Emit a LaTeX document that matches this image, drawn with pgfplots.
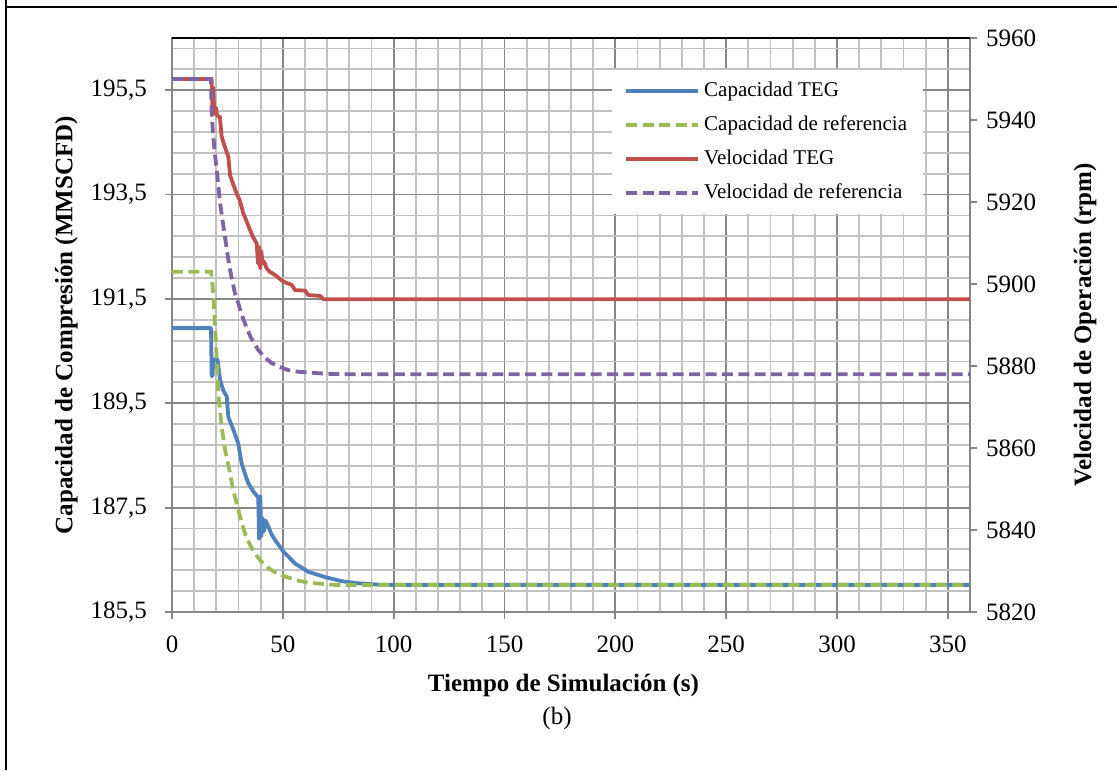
\documentclass[border=0pt]{standalone}
\usepackage{fontspec}
\setmainfont{Liberation Serif}
\usepackage{pgfplots}
\pgfplotsset{compat=1.18}
\definecolor{capblue}{HTML}{4F81BD}
\definecolor{capgreen}{HTML}{9BBB59}
\definecolor{velred}{HTML}{C0504D}
\definecolor{velpurple}{HTML}{8064A2}

\pgfplotsset{
  teg/.style={line width=1.9pt, line join=round},
  refc/.style={line width=1.9pt, line cap=butt, dash pattern=on 5.5pt off 2.7pt},
  common/.style={
    at={(86pt,79pt)}, anchor=south west,
    scale only axis, width=399pt, height=287pt,
    xmin=0, xmax=360,
    tick align=outside, major tick length=3.5pt, minor tick length=0pt,
    axis line style={draw=black!47, line width=1pt},
    tick style={draw=black!47, line width=0.9pt},
    /pgf/number format/assume math mode=true,
    ticklabel style={font=\fontsize{12.5}{15}\selectfont},
    label style={font=\fontsize{12.5}{15}\selectfont\bfseries},
  },
}

\begin{document}
\begin{tikzpicture}
\path[use as bounding box] (0,0) rectangle (558.5pt,385pt);
\draw[line width=1pt] (3pt,0pt) -- (3pt,385pt);
\draw[line width=1pt] (3pt,381.5pt) -- (558.5pt,381.5pt);

\begin{axis}[
  common, name=capax,
  ymin=185.5, ymax=196.5,
  xtick={0,50,...,350}, minor xtick={10,20,...,360},
  ytick={185.5,187.5,189.5,191.5,193.5,195.5},
  minor ytick={185.9,186.3,...,196.4},
  grid=both,
  major grid style={draw=black!47, line width=0.9pt},
  minor grid style={draw=black!24, line width=0.9pt},
  xtick pos=bottom, ytick pos=left,
  xticklabel style={yshift=-5pt},
  yticklabel style={xshift=-5.5pt, /pgf/number format/.cd, fixed, fixed zerofill, precision=1, use comma},
  xlabel={Tiempo de Simulación (s)},
  xlabel style={at={(axis description cs:0.4906,-0.1272)}, anchor=center},
  ylabel={Capacidad de Compresión (MMSCFD)},
  ylabel style={at={(axis description cs:-0.1325,0.5)}, anchor=center},
]
% Capacidad TEG
\addplot[teg, capblue] coordinates {
  (0,190.94) (17.6,190.94) (17.9,190.02) (18.3,190.02) (18.6,190.34) (20.5,190.34)
  (21.7,189.95) (23.1,189.75) (24.7,189.63) (25.4,189.24) (27.7,188.99) (29.9,188.73)
  (31.4,188.35) (32.9,188.15) (34.4,187.97) (36.5,187.82) (38.6,187.71) (38.9,187.7)
  (39.3,186.9) (39.8,187.72) (40.3,186.95) (40.9,187.3) (41.5,187.05) (42.3,187.25)
  (43.5,187.13) (45,186.98) (46.5,186.88) (50.2,186.66) (55.5,186.43) (61.5,186.27)
  (69,186.17) (76.6,186.09) (84,186.05) (94.6,186.02) (360,186.02)
};
% Capacidad de referencia
\addplot[refc, capgreen] coordinates {
  (0,192.02) (17.6,192.02) (18.0,191.9) (18.6,191.61) (19.4,190.97) (20.2,190.33)
  (20.9,189.69) (22.4,189.05) (23.9,188.62) (24.7,188.45) (26.2,188.16) (27.5,187.85)
  (29.2,187.58) (31,187.28) (32.9,187.01) (35,186.8) (37.4,186.62) (40,186.48)
  (43.5,186.34) (47,186.25) (51,186.18) (56,186.11) (61.5,186.06) (73.5,186.02)
  (360,186.02)
};
\end{axis}

\begin{axis}[
  common,
  ymin=5820, ymax=5960,
  axis x line=none, axis y line*=right,
  ytick={5820,5840,...,5960},
  yticklabel style={xshift=1pt, /pgf/number format/1000 sep={}},
  ylabel={Velocidad de Operación (rpm)},
  ylabel style={at={(axis description cs:1.1441,0.5)}, anchor=center, rotate=0},
  legend style={at={(0.5514,0.9443)}, anchor=north west, draw=none, fill=white,
    font=\fontsize{10.5}{12}\selectfont, inner xsep=6pt, inner ysep=2pt, row sep=0pt,
    nodes={text height=8pt, text depth=2.5pt, inner ysep=3.2pt}},
  legend cell align=left,
  legend image code/.code={\draw[#1] (0pt,0pt) -- (36pt,0pt);},
]
\addlegendimage{teg, capblue}
\addlegendentry{Capacidad TEG}
\addlegendimage{refc, capgreen}
\addlegendentry{Capacidad de referencia}
% Velocidad TEG
\addplot[teg, velred] coordinates {
  (0,5950) (17.9,5950) (18.2,5943) (18.6,5948) (19.1,5941.5) (19.8,5943) (20.4,5941)
  (21.6,5940.8) (22.4,5936) (23.5,5934) (25.4,5931) (26.2,5926.5) (27.5,5924.5)
  (29.2,5922) (30.5,5920.5) (32.2,5917.2) (33.5,5915.5) (35.2,5913.2) (36.5,5911.5)
  (38.2,5909.9) (38.8,5905) (39.3,5909) (39.8,5903.8) (40.3,5908) (40.8,5905)
  (41.5,5905.5) (42.7,5903.8) (44,5903) (46.5,5902.2) (48,5901.5) (50.2,5900.6)
  (52,5900.2) (54,5899.8) (55.5,5898.5) (60,5898.4) (61.5,5897.3) (66.8,5897.1)
  (68.3,5896.3) (360,5896.3)
};
\addlegendentry{Velocidad TEG}
% Velocidad de referencia
\addplot[refc, velpurple] coordinates {
  (0,5950) (17.6,5950) (17.9,5941.6) (18.6,5935.9) (19.4,5931.5) (20.2,5927.8)
  (21.7,5919.7) (23.9,5911.5) (25.4,5906) (26.2,5903.4) (28.4,5897.7) (29.9,5895.3)
  (31.3,5892.8) (32.9,5890.4) (35.5,5887) (38.9,5883.9) (42,5882) (45,5880.7)
  (48.5,5879.8) (52.5,5879.0) (57,5878.6) (61.5,5878.4) (70,5878.1) (76.6,5878.0)
  (360,5878)
};
\addlegendentry{Velocidad de referencia}
\end{axis}

\draw[line width=1pt] (capax.north west) -- (capax.north east);
\node[font=\fontsize{12.5}{15}\selectfont] at (278.5pt,26pt) {(b)};
\end{tikzpicture}
\end{document}
